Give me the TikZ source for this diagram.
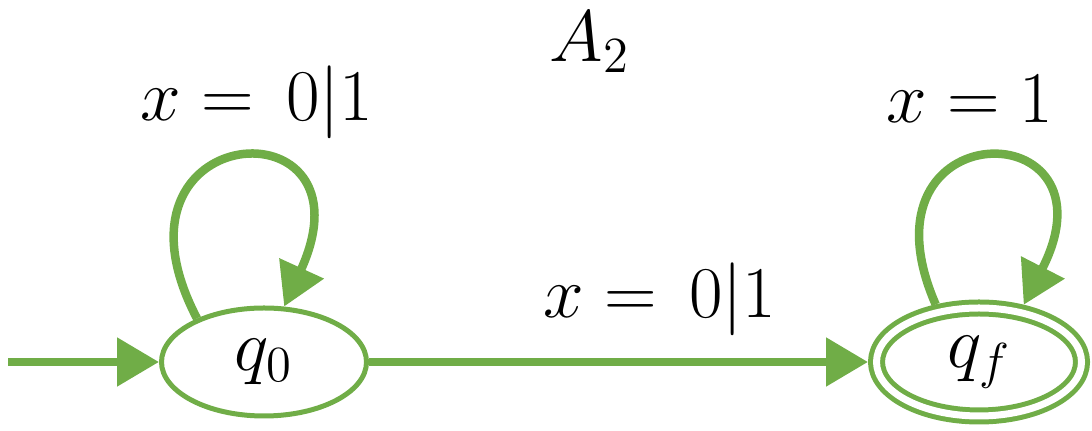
\documentclass[tikz,border=0pt]{standalone}
\usepackage{tikz}
\usetikzlibrary{shapes.geometric, arrows.meta, positioning}
\definecolor{stategreen}{HTML}{70AD47}

\begin{document}
\begin{tikzpicture}[
    every node/.style={font=\fontsize{22}{26}\selectfont},
    state/.style={draw=stategreen, ellipse, line width=0.05cm, minimum width=2.05cm, minimum height=1.08cm, inner sep=0pt},
    accept/.style={state, double=white, double distance=0.07cm, outer sep=0.085cm},
    trans/.style={-{Triangle[length=0.42cm, width=0.47cm]}, draw=stategreen, line width=0.085cm},
    lbl/.style={anchor=base}
]
    \useasboundingbox (0,0) rectangle (10.92,4.31);

    % States
    \node[state] (q0) at (2.64,0.69) {$q_0$};
    \node[accept] (qf) at (9.79,0.69) {$q_f$};
    \coordinate (init) at (0.08,0.69);

    % Labels
    \node[lbl] (title) at (5.90,3.69) {$A_2$};
    \node[lbl] (loopzero) at (2.57,3.10) {$x =\, 0|1$};
    \node[lbl] (step) at (6.60,1.13) {$x =\, 0|1$};
    \node[lbl] (loopfin) at (9.70,3.08) {$x = 1$};

    % Arrows
    \draw[trans] (init) -- (q0);
    \draw[trans] (q0) -- (qf);
    \draw[trans] (q0.147) .. controls +(-1.05,2.01) and +(0.95,2.08) .. (q0.70);
    \draw[trans] (qf.127) .. controls +(-0.85,1.95) and +(1.0,1.95) .. (qf.52);
\end{tikzpicture}
\end{document}
